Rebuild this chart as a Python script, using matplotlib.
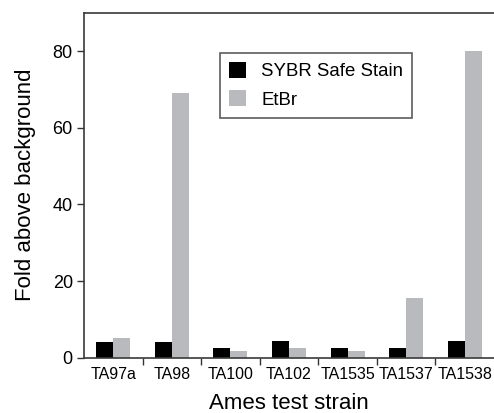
import matplotlib.pyplot as plt
import numpy as np

strains = ["TA97a", "TA98", "TA100", "TA102", "TA1535", "TA1537", "TA1538"]
sybr_safe = [4.0, 4.0, 2.5, 4.3, 2.5, 2.5, 4.3]
etbr = [5.1, 69.2, 1.7, 2.5, 1.7, 15.5, 80.1]

plt.rcParams['font.family'] = ['Liberation Sans', 'DejaVu Sans']

fig = plt.figure(figsize=(4.94, 4.13), dpi=100)
ax = fig.add_axes([0.170, 0.134, 0.830, 0.835])

x = np.arange(len(strains)) + 0.5
w = 0.29
ax.bar(x - w / 2, sybr_safe, width=w, color='black', label='SYBR Safe Stain')
ax.bar(x + w / 2, etbr, width=w, color='#b9babd', label='EtBr')

ax.set_xlim(0, len(strains))
ax.set_ylim(0, 90)
ax.set_yticks([0, 20, 40, 60, 80])
ax.tick_params(axis='y', labelsize=13, length=5, width=1, pad=3, color='#333333')

# ticks between the groups, labels centred under them
ax.set_xticks(np.arange(1, len(strains)))
ax.set_xticklabels([])
ax.set_xticks(x, minor=True)
ax.set_xticklabels(strains, minor=True, fontsize=11.5)
ax.tick_params(axis='x', which='major', direction='out', length=5, width=1, color='#333333')
ax.tick_params(axis='x', which='minor', length=0, pad=7)

ax.set_xlabel('Ames test strain', fontsize=16, labelpad=8)
ax.set_ylabel('Fold above background', fontsize=16, labelpad=12)

for side in ['left', 'top', 'bottom']:
    ax.spines[side].set_color('#3a3a3a')
    ax.spines[side].set_linewidth(1.2)
ax.spines['right'].set_visible(False)

leg = ax.legend(loc='upper left', bbox_to_anchor=(0.332, 0.884), borderaxespad=0,
                fontsize=13.4, fancybox=False, frameon=True, handlelength=0.9,
                handleheight=0.9, handletextpad=0.8, borderpad=0.5, labelspacing=0.55)
leg.get_frame().set_edgecolor('#333333')
leg.get_frame().set_linewidth(1.2)

plt.savefig('out.png', dpi=100)
